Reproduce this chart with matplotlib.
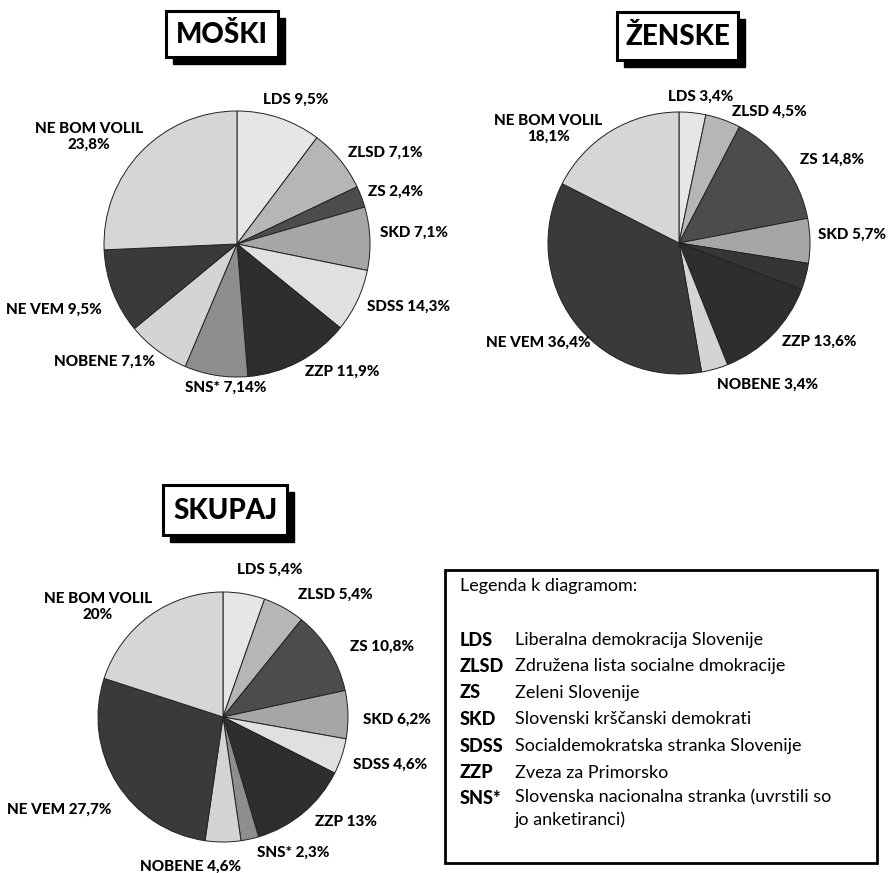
import matplotlib
matplotlib.use("Agg")
import matplotlib.pyplot as plt
from matplotlib.patches import Rectangle

# category order (clockwise from 12 o'clock)
parties = ["LDS", "ZLSD", "ZS", "SKD", "SDSS", "ZZP", "SNS*", "NOBENE", "NE VEM", "NE BOM VOLIL"]

# slice sizes as drawn in the picture
moski_sizes = [9.5, 7.1, 2.4, 7.1, 7.1, 11.9, 7.1, 7.1, 9.5, 23.8]
zenske_sizes = [3.4, 4.5, 14.8, 5.7, 3.4, 13.6, 0.0, 3.4, 36.4, 18.1]
skupaj_sizes = [5.4, 5.4, 10.8, 6.2, 4.6, 13.0, 2.3, 4.6, 27.7, 20.0]

# label texts as printed
moski_labels = ["LDS 9,5%", "ZLSD 7,1%", "ZS 2,4%", "SKD 7,1%", "SDSS 14,3%", "ZZP 11,9%",
                "SNS* 7,14%", "NOBENE 7,1%", "NE VEM 9,5%", "NE BOM VOLIL\n23,8%"]
zenske_labels = ["LDS 3,4%", "ZLSD 4,5%", "ZS 14,8%", "SKD 5,7%", "", "ZZP 13,6%",
                 "", "NOBENE 3,4%", "NE VEM 36,4%", "NE BOM VOLIL\n18,1%"]
skupaj_labels = ["LDS 5,4%", "ZLSD 5,4%", "ZS 10,8%", "SKD 6,2%", "SDSS 4,6%", "ZZP 13%",
                 "SNS* 2,3%", "NOBENE 4,6%", "NE VEM 27,7%", "NE BOM VOLIL\n20%"]

legend_abbr = ["LDS", "ZLSD", "ZS", "SKD", "SDSS", "ZZP", "SNS*"]
legend_names = ["Liberalna demokracija Slovenije", "Združena lista socialne dmokracije",
                "Zeleni Slovenije", "Slovenski krščanski demokrati",
                "Socialdemokratska stranka Slovenije", "Zveza za Primorsko",
                "Slovenska nacionalna stranka (uvrstili so\njo anketiranci)"]

# grey shades per category
greys = ["#e6e6e6", "#b6b6b6", "#4c4c4c", "#a6a6a6", "#e0e0e0", "#2e2e2e",
         "#8e8e8e", "#d4d4d4", "#3a3a3a", "#d6d6d6"]
greys_zenske = list(greys)
greys_zenske[4] = "#353535"

W, H = 891, 873
fig = plt.figure(figsize=(W / 100, H / 100), dpi=100)
ax = fig.add_axes([0, 0, 1, 1])

LBL = dict(family="Lato", weight="black", fontsize=11, color="black", va="center")


def draw_pie(sizes, colors, labels, center, radius, label_pos):
    ax.pie(sizes, colors=colors, center=center, radius=radius, startangle=-90,
           counterclock=True, wedgeprops=dict(edgecolor="#222222", linewidth=0.7))
    for txt, (x, y, ha) in zip(labels, label_pos):
        if txt:
            ax.text(x, y, txt, ha=ha, multialignment="center", linespacing=1.2, **LBL)


def title_box(x0, y0, w, h, txt):
    ax.add_patch(Rectangle((x0 + 7, y0 + 7), w, h, facecolor="black", edgecolor="black", zorder=5))
    ax.add_patch(Rectangle((x0, y0), w, h, facecolor="white", edgecolor="black", lw=2.2, zorder=6))
    ax.text(x0 + w / 2, y0 + h / 2 + 1, txt, ha="center", va="center", family="Lato",
            weight="black", fontsize=20, zorder=7)


moski_pos = [(263, 100, "left"), (348, 153, "left"), (368, 192, "left"), (380, 233, "left"),
             (367, 307, "left"), (305, 372, "left"), (185, 388, "left"), (155, 362, "right"),
             (102, 310, "right"), (89, 137, "center")]
zenske_pos = [(668, 97, "left"), (732, 112, "left"), (800, 160, "left"), (818, 235, "left"),
              (0, 0, "left"), (782, 342, "left"), (0, 0, "left"), (717, 385, "left"),
              (590, 343, "right"), (548, 129, "center")]
skupaj_pos = [(237, 570, "left"), (298, 595, "left"), (350, 647, "left"), (363, 720, "left"),
              (353, 765, "left"), (315, 822, "left"), (257, 853, "left"), (140, 867, "left"),
              (7, 810, "left"), (98, 607, "center")]

draw_pie(moski_sizes, greys, moski_labels, (237, 244), 133, moski_pos)
draw_pie(zenske_sizes, greys_zenske, zenske_labels, (679, 243), 131, zenske_pos)
draw_pie(skupaj_sizes, greys, skupaj_labels, (223, 717), 125, skupaj_pos)

title_box(166, 11, 112, 46, "MOŠKI")
title_box(617, 12, 121, 48, "ŽENSKE")
title_box(163, 485, 124, 50, "SKUPAJ")

# legend box
ax.add_patch(Rectangle((445, 570), 432, 293, facecolor="white", edgecolor="black", lw=2))
ax.text(460, 586, "Legenda k diagramom:", family="Lato", fontsize=13, va="center")
row_y = 640
for abbr, name in zip(legend_abbr, legend_names):
    ax.text(460, row_y, abbr, family="Lato", weight="black", fontsize=13, va="center")
    if "\n" in name:
        ax.text(515, row_y - 10, name, family="Lato", fontsize=13, va="top", linespacing=1.45)
    else:
        ax.text(515, row_y, name, family="Lato", fontsize=13, va="center")
    row_y += 26.5

ax.set_xlim(0, W)
ax.set_ylim(H, 0)
ax.set_aspect("equal")
ax.axis("off")

fig.savefig("out.png", dpi=100, facecolor="white")
